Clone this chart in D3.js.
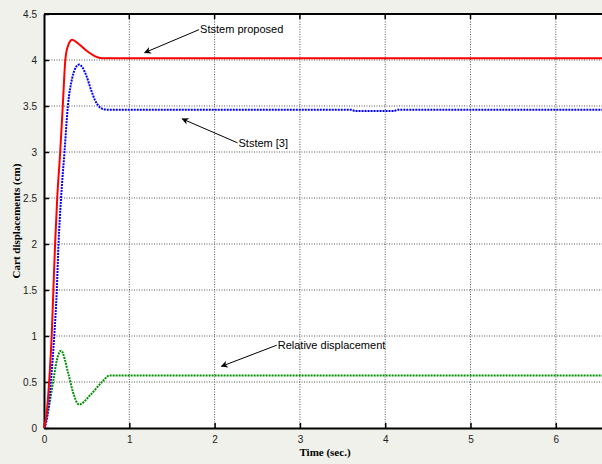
<!DOCTYPE html>
<html>
<head>
<meta charset="utf-8">
<script src="https://cdn.jsdelivr.net/npm/d3@7"></script>
<style>
  body { margin: 0; background: #eff1ea; }
  svg { display: block; }
</style>
</head>
<body>
<div id="chart"></div>
<script>
// time samples and responses
const timeProposed = [0, 0.03, 0.06, 0.09, 0.11, 0.13, 0.155, 0.19, 0.22, 0.25, 0.28, 0.33, 0.4, 0.5, 0.6, 0.68, 7]
const dispProposed = [0, 0.15, 0.5, 1.0, 1.5, 2.0, 2.5, 3.0, 3.5, 4.0, 4.15, 4.22, 4.18, 4.1, 4.04, 4.02, 4.02]

const timeRef3 = [0, 0.03, 0.05, 0.08, 0.12, 0.15, 0.17, 0.2, 0.24, 0.28, 0.33, 0.38, 0.41, 0.45, 0.5, 0.55, 0.6, 0.65, 0.7, 0.75, 3.6, 3.65, 4.1, 4.15, 7]
const dispRef3 = [0, 0.08, 0.2, 0.5, 1.0, 1.5, 2.0, 2.5, 3.0, 3.5, 3.8, 3.93, 3.95, 3.92, 3.82, 3.68, 3.56, 3.49, 3.465, 3.46, 3.46, 3.445, 3.445, 3.46, 3.46]

const timeRel = [0, 0.05, 0.11, 0.15, 0.2, 0.285, 0.34, 0.41, 0.54, 0.68, 0.77, 7]
const dispRel = [0, 0.19, 0.52, 0.735, 0.84, 0.59, 0.39, 0.255, 0.355, 0.5, 0.572, 0.572]

const xTicks = [0, 1, 2, 3, 4, 5, 6]
const yTicks = [0, 0.5, 1, 1.5, 2, 2.5, 3, 3.5, 4, 4.5]

// annotation: label, text position, arrow tip (data units)
const notes = [
  {label: "Ststem proposed", tx: 1.83, ty: 4.33, ax: 1.18, ay: 4.08},
  {label: "Ststem [3]", tx: 2.28, ty: 3.10, ax: 1.62, ay: 3.36},
  {label: "Relative displacement", tx: 2.74, ty: 0.90, ax: 2.08, ay: 0.67}
]

const W = 602, H = 464
const margin = {top: 14, left: 44, bottom: 36}
const plotW = 563   // right edge runs off the picture
const plotH = H - margin.top - margin.bottom

const svg = d3.select("#chart").append("svg")
  .attr("width", W).attr("height", H)

svg.append("defs").append("marker")
  .attr("id", "head")
  .attr("viewBox", "0 0 10 10")
  .attr("refX", 9).attr("refY", 5)
  .attr("markerWidth", 9).attr("markerHeight", 7)
  .attr("markerUnits", "userSpaceOnUse")
  .attr("orient", "auto")
  .append("path").attr("d", "M0,0 L10,5 L0,10 L3,5 Z").attr("fill", "#000")

const g = svg.append("g").attr("transform", `translate(${margin.left},${margin.top})`)

const x = d3.scaleLinear().domain([0, 6.6]).range([0, plotW])
const y = d3.scaleLinear().domain([0, 4.5]).range([plotH, 0])

g.append("rect").attr("width", plotW).attr("height", plotH).attr("fill", "#fff")

// grid
g.append("g").selectAll("line").data(xTicks.slice(1)).join("line")
  .attr("x1", d => x(d)).attr("x2", d => x(d))
  .attr("y1", 0).attr("y2", plotH)
  .attr("stroke", "#555").attr("stroke-width", 1).attr("stroke-dasharray", "1,1.5")
g.append("g").selectAll("line").data(yTicks.slice(1, -1)).join("line")
  .attr("x1", 0).attr("x2", plotW)
  .attr("y1", d => y(d)).attr("y2", d => y(d))
  .attr("stroke", "#555").attr("stroke-width", 1).attr("stroke-dasharray", "1,1.5")

// axes with inward ticks
const xAxis = g.append("g").attr("transform", `translate(0,${plotH})`)
  .call(d3.axisBottom(x).tickValues(xTicks).tickFormat(d3.format("d")).tickSizeInner(-5).tickSizeOuter(0).tickPadding(8))
const yAxis = g.append("g")
  .call(d3.axisLeft(y).tickValues(yTicks).tickFormat(d => String(d)).tickSizeInner(-5).tickSizeOuter(0).tickPadding(7))
for (const a of [xAxis, yAxis]) {
  a.select(".domain").attr("stroke", "#000").attr("stroke-width", 2)
  a.selectAll(".tick line").attr("stroke", "#000").attr("stroke-width", 1.5)
  a.selectAll(".tick text").attr("font-family", "Liberation Sans, Arial, sans-serif")
    .attr("font-size", 10).attr("fill", "#222")
}
g.append("line").attr("x1", 0).attr("x2", plotW).attr("y1", 0).attr("y2", 0)
  .attr("stroke", "#000").attr("stroke-width", 2)
g.append("g").selectAll("line").data(xTicks.slice(1)).join("line")
  .attr("x1", d => x(d)).attr("x2", d => x(d)).attr("y1", 0).attr("y2", 5)
  .attr("stroke", "#000").attr("stroke-width", 1.5)

// curves
const line = d3.line().x(d => x(d[0])).y(d => y(d[1])).curve(d3.curveMonotoneX)
const series = [
  {t: timeRel, v: dispRel, color: "#009000", dash: "2,1"},
  {t: timeRef3, v: dispRef3, color: "#0000ff", dash: "2,1"},
  {t: timeProposed, v: dispProposed, color: "#ff0000", dash: null}
]
series.forEach(s => {
  g.append("path")
    .datum(d3.zip(s.t, s.v))
    .attr("d", line)
    .attr("fill", "none")
    .attr("stroke", s.color)
    .attr("stroke-width", 2)
    .attr("stroke-dasharray", s.dash)
})

// annotations
notes.forEach(n => {
  g.append("line")
    .attr("x1", x(n.tx) - 1).attr("y1", y(n.ty))
    .attr("x2", x(n.ax)).attr("y2", y(n.ay))
    .attr("stroke", "#000").attr("stroke-width", 1)
    .attr("marker-end", "url(#head)")
  g.append("text")
    .attr("x", x(n.tx)).attr("y", y(n.ty)).attr("dy", "0.35em")
    .attr("font-family", "Liberation Sans, Arial, sans-serif").attr("font-size", 11)
    .text(n.label)
})

// axis titles
svg.append("text")
  .attr("x", 325).attr("y", 456)
  .attr("text-anchor", "middle")
  .attr("font-family", "Liberation Serif, Times New Roman, serif")
  .attr("font-weight", "bold").attr("font-size", 11)
  .text("Time (sec.)")
svg.append("text")
  .attr("transform", `translate(20,${margin.top + plotH / 2}) rotate(-90)`)
  .attr("text-anchor", "middle")
  .attr("font-family", "Liberation Serif, Times New Roman, serif")
  .attr("font-weight", "bold").attr("font-size", 11)
  .text("Cart displacements (cm)")
</script>
</body>
</html>
